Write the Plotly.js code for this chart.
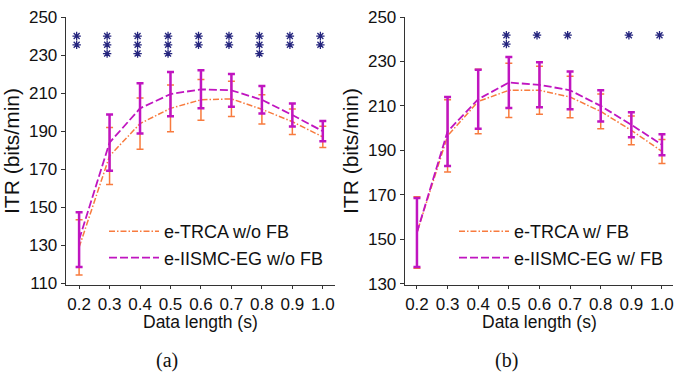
<!DOCTYPE html>
<html>
<head>
<meta charset="utf-8">
<script src="https://cdn.plot.ly/plotly-3.0.1.min.js"></script>
<style>html,body{margin:0;padding:0;background:#fff}#chart{width:675px;height:375px}</style>
</head>
<body>
<div id="chart"></div>
<script>
// ---- data ----
const dataLength = [0.2, 0.3, 0.4, 0.5, 0.6, 0.7, 0.8, 0.9, 1.0];
const tickLabels = ["0.2","0.3","0.4","0.5","0.6","0.7","0.8","0.9","1.0"];

// (a) without filter bank
const trcaNoFB      = [129, 177, 194, 202, 206.5, 207, 201.5, 195, 187];
const trcaNoFBErr   = [14.5, 15, 13.5, 12.3, 10.7, 9.3, 7.7, 6.7, 5.6];
const iismcNoFB     = [133, 184, 202, 209.5, 212, 211.5, 206.5, 198.5, 190];
const iismcNoFBErr  = [14.4, 14.8, 13.2, 11.6, 10, 8.6, 7.2, 6, 5.3];
const sigNoFB       = [2, 3, 3, 3, 2, 2, 3, 2, 2];

// (b) with filter bank
const trcaFB        = [153, 196.5, 212, 217, 217, 214, 207.5, 199, 189.5];
const trcaFBErr     = [16.1, 16.3, 14.5, 12.2, 10.8, 9.3, 7.8, 6.5, 5.4];
const iismcFB       = [153, 198.5, 213, 220.5, 219.5, 217, 210, 201.5, 192.5];
const iismcFBErr    = [15.5, 15.5, 13.3, 11.5, 10.1, 8.5, 7, 5.6, 4.7];
const sigFB         = [0, 0, 0, 2, 1, 1, 0, 1, 1];

const ORANGE = "#f87b3e";
const MAGENTA = "#c015c0";
const NAVY = "#25257e";
const DASHDOT = "6px,2px,1.5px,2px";
const DASHED = "8px,3px";

function series(x, y, err, name, color, dash, w, lw, xa, ya, legend) {
  return {
    x: x, y: y, name: name, type: "scatter", mode: "lines",
    xaxis: xa, yaxis: ya, legend: legend,
    line: {color: color, dash: dash, width: lw},
    error_y: {type: "data", array: err, visible: true, color: color, thickness: w, width: 3.5}
  };
}

function stars(counts, top, step, xa, ya) {
  const xs = [], ys = [];
  counts.forEach((c, i) => {
    for (let k = 0; k < c; k++) { xs.push(dataLength[i] - 0.008); ys.push(top - k * step); }
  });
  return {
    x: xs, y: ys, type: "scatter", mode: "markers", xaxis: xa, yaxis: ya,
    showlegend: false, hoverinfo: "skip",
    marker: {symbol: "asterisk-open", size: 7, color: NAVY, line: {color: NAVY, width: 1.3}}
  };
}

const traces = [
  series(dataLength, trcaNoFB, trcaNoFBErr, "e-TRCA w/o FB", ORANGE, DASHDOT, 1.5, 1.5, "x", "y", "legend"),
  series(dataLength, iismcNoFB, iismcNoFBErr, "e-IISMC-EG w/o FB", MAGENTA, DASHED, 2.5, 1.8, "x", "y", "legend"),
  stars(sigNoFB, 240, 4.6, "x", "y"),
  series(dataLength, trcaFB, trcaFBErr, "e-TRCA w/ FB", ORANGE, DASHDOT, 1.5, 1.5, "x2", "y2", "legend2"),
  series(dataLength, iismcFB, iismcFBErr, "e-IISMC-EG w/ FB", MAGENTA, DASHED, 2.5, 1.8, "x2", "y2", "legend2"),
  stars(sigFB, 241.8, 4.0, "x2", "y2")
];

const FAM = "Liberation Sans, Arial, sans-serif";
const TXT = "#111";
function xaxis(domain, range, anchor) {
  return {
    domain: domain, range: range, anchor: anchor,
    tickvals: dataLength, ticktext: tickLabels,
    ticks: "outside", ticklen: 3, tickwidth: 1, tickcolor: "#333",
    showline: true, linecolor: "#333", linewidth: 1.3,
    showgrid: false, zeroline: false,
    tickfont: {size: 17, family: FAM, color: TXT}
  };
}
function yaxis(domain, range, tv, anchor) {
  return {
    domain: domain, range: range, anchor: anchor,
    tickvals: tv, ticks: "outside", ticklen: 4, tickwidth: 1, tickcolor: "#333",
    showline: true, linecolor: "#333", linewidth: 1.3,
    showgrid: false, zeroline: false,
    tickfont: {size: 17, family: FAM, color: TXT},
    title: {text: "ITR (bits/min)", font: {size: 21, family: FAM, color: TXT}, standoff: 3}
  };
}

function paperText(text, xpx, ypx, fam, size) {
  return {text: text, x: xpx / 675, y: 1 - ypx / 375, xref: "paper", yref: "paper", showarrow: false,
          xanchor: "center", yanchor: "middle", font: {family: fam, size: size, color: TXT}};
}

const SERIF = "Liberation Serif, Times New Roman, serif";
const yDom = [1 - 285 / 375, 1 - 17 / 375];
const legendStyle = {bgcolor: "rgba(0,0,0,0)", font: {size: 18, family: FAM, color: TXT},
                     tracegroupgap: 0, itemwidth: 50, xanchor: "left", yanchor: "top"};
const layout = {
  width: 675, height: 375,
  margin: {l: 0, r: 0, t: 0, b: 0},
  paper_bgcolor: "#fff", plot_bgcolor: "#fff",
  font: {family: FAM, color: TXT},
  xaxis: xaxis([66 / 675, 335 / 675], [0.157, 1.04], "y"),
  yaxis: yaxis(yDom, [109.2, 250], [110, 130, 150, 170, 190, 210, 230, 250], "x"),
  xaxis2: xaxis([405 / 675, 673 / 675], [0.161, 1.036], "y2"),
  yaxis2: yaxis(yDom, [129.4, 250], [130, 150, 170, 190, 210, 230, 250], "x2"),
  legend: Object.assign({x: 104 / 675, y: 1 - 213 / 375}, legendStyle),
  legend2: Object.assign({x: 454 / 675, y: 1 - 213 / 375}, legendStyle),
  annotations: [
    paperText("Data length (s)", 201, 322, FAM, 17.5),
    paperText("Data length (s)", 539, 322, FAM, 17.5),
    paperText("(a)", 167, 360, SERIF, 20),
    paperText("(b)", 506, 360, SERIF, 20)
  ],
  showlegend: true
};

Plotly.newPlot("chart", traces, layout, {staticPlot: true, displayModeBar: false});
</script>
</body>
</html>
